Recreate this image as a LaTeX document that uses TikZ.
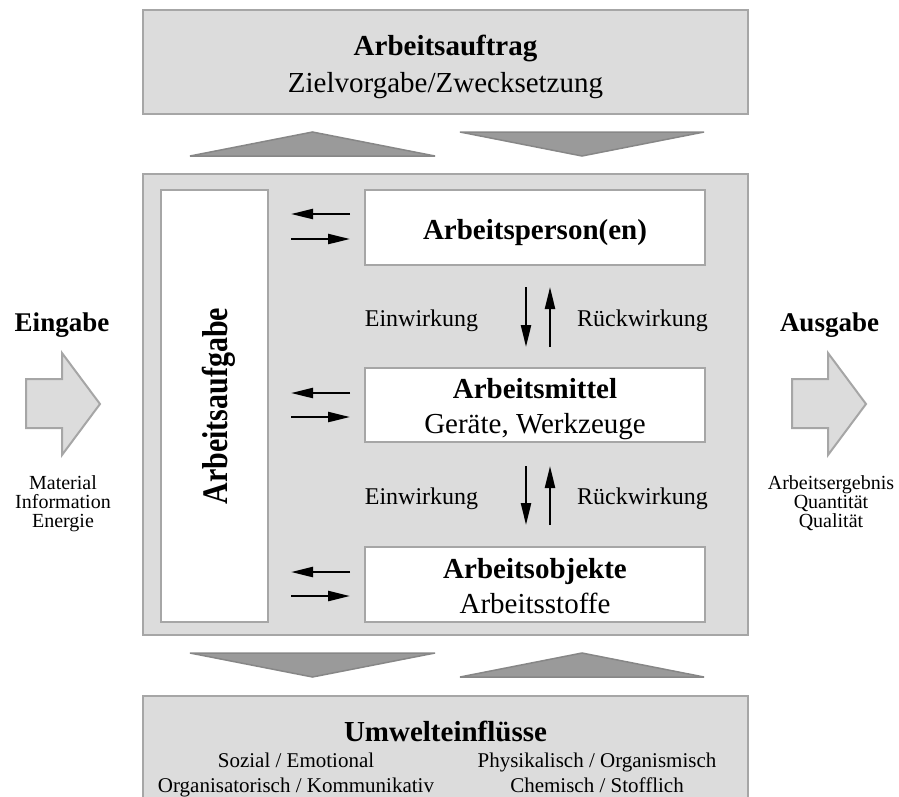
\documentclass[tikz,border=0pt]{standalone}
\usepackage{fontspec}
\setmainfont{Liberation Serif}
\usetikzlibrary{arrows.meta}
\definecolor{boxfill}{HTML}{DCDCDC}
\definecolor{boxline}{HTML}{A6A6A6}
\definecolor{trifill}{HTML}{9A9A9A}
\definecolor{triline}{HTML}{878787}
\begin{document}
\begin{tikzpicture}[x=1pt,y=-1pt,
  panel/.style={rectangle, draw=boxline, fill=boxfill, line width=2.5pt, inner sep=0pt, outer sep=0pt},
  whitebox/.style={rectangle, draw=boxline, fill=white, line width=2.5pt, inner sep=0pt, outer sep=0pt},
  tri/.style={draw=triline, fill=trifill, line width=1.5pt, line join=miter},
  bigarrow/.style={draw=boxline, fill=boxfill, line width=2pt, line join=miter},
  harr/.style={line width=2.4pt, -{Triangle[length=22pt,width=10pt]}},
  lbl/.style={anchor=base, inner sep=0pt},
  ttl/.style={lbl, font=\fontsize{29}{35}\selectfont\bfseries},
  sub/.style={lbl, font=\fontsize{29}{35}\selectfont},
  wirk/.style={lbl, font=\fontsize{24}{28}\selectfont},
  side/.style={lbl, font=\fontsize{27}{32}\selectfont\bfseries},
  small/.style={lbl, font=\fontsize{20}{24}\selectfont},
  env/.style={lbl, font=\fontsize{21}{25}\selectfont}]
\useasboundingbox (0,0) rectangle (899,796);

% top box
\node[panel, minimum width=605pt, minimum height=104pt] (auftrag) at (445.5,62) {};
\node[ttl] (tauftrag) at (445.5,55) {Arbeitsauftrag};
\node[sub] (tziel) at (445.5,92) {Zielvorgabe/Zwecksetzung};

% triangles top
\draw[tri] (190,156) -- (312.5,132) -- (435,156) -- cycle;
\draw[tri] (460,132) -- (582,156) -- (704,132) -- cycle;

% main box
\node[panel, minimum width=605pt, minimum height=461pt] (system) at (445.5,404.5) {};
\node[whitebox, minimum width=107pt, minimum height=432pt] (col) at (214.5,406) {};
\node[rotate=90, inner sep=0pt, font=\fontsize{30}{36}\selectfont\bfseries] (taufgabe) at (219,406) {\scalebox{1}[1.2]{Arbeitsaufgabe}};

\node[whitebox, minimum width=340pt, minimum height=75pt] (pers) at (535,227.5) {};
\node[whitebox, minimum width=340pt, minimum height=74pt] (mittel) at (535,405) {};
\node[whitebox, minimum width=340pt, minimum height=75pt] (obj) at (535,584.5) {};

\node[ttl] (tpers) at (535,239) {Arbeitsperson(en)};
\node[ttl] (tmittel) at (535,398) {Arbeitsmittel};
\node[sub] (tgeraete) at (535,433) {Geräte, Werkzeuge};
\node[ttl] (tobj) at (535,578) {Arbeitsobjekte};
\node[sub] (tstoffe) at (535,613) {Arbeitsstoffe};

% horizontal arrow pairs
\draw[harr, shorten <=15pt, shorten >=23pt] ([yshift=13.5pt]pers.west) -- ([yshift=13.5pt]col.east |- pers.west);
\draw[harr, shorten <=23pt, shorten >=15pt] ([yshift=-11.5pt]col.east |- pers.west) -- ([yshift=-11.5pt]pers.west);
\draw[harr, shorten <=15pt, shorten >=23pt] ([yshift=12pt]mittel.west) -- ([yshift=12pt]col.east |- mittel.west);
\draw[harr, shorten <=23pt, shorten >=15pt] ([yshift=-12pt]col.east |- mittel.west) -- ([yshift=-12pt]mittel.west);
\draw[harr, shorten <=15pt, shorten >=23pt] ([yshift=12.5pt]obj.west) -- ([yshift=12.5pt]col.east |- obj.west);
\draw[harr, shorten <=23pt, shorten >=15pt] ([yshift=-11.5pt]col.east |- obj.west) -- ([yshift=-11.5pt]obj.west);

% vertical arrow pairs
\draw[harr, shorten <=22pt, shorten >=21pt] ([xshift=-9pt]pers.south) -- ([xshift=-9pt]mittel.north);
\draw[harr, shorten <=21pt, shorten >=22pt] ([xshift=15pt]mittel.north) -- ([xshift=15pt]pers.south);
\draw[harr, shorten <=24pt, shorten >=22pt] ([xshift=-9pt]mittel.south) -- ([xshift=-9pt]obj.north);
\draw[harr, shorten <=22pt, shorten >=24pt] ([xshift=15pt]obj.north) -- ([xshift=15pt]mittel.south);

\node[wirk] (ein1) at (421.5,326) {Einwirkung};
\node[wirk] (rueck1) at (642.5,326) {Rückwirkung};
\node[wirk] (ein2) at (421.5,504) {Einwirkung};
\node[wirk] (rueck2) at (642.5,504) {Rückwirkung};

% triangles bottom
\draw[tri] (190,653) -- (312.5,677) -- (435,653) -- cycle;
\draw[tri] (460,677) -- (582,653) -- (704,677) -- cycle;

% bottom box (cut off at the lower edge)
\begin{scope}
\clip (0,0) rectangle (899,796);
\node[panel, minimum width=605pt, minimum height=130pt, anchor=north] (umwelt) at (445.5,696) {};
\end{scope}
\node[ttl] (tumwelt) at (445.5,741) {Umwelteinflüsse};
\node[env] (tsozial) at (296,767) {Sozial / Emotional};
\node[env] (torga) at (296,792) {Organisatorisch / Kommunikativ};
\node[env] (tphys) at (597,767) {Physikalisch / Organismisch};
\node[env] (tchem) at (597,792) {Chemisch / Stofflich};

% input
\node[side] (teingabe) at (62,331) {Eingabe};
\draw[bigarrow] (26,379) -- (62,379) -- (62,353) -- (100,404) -- (62,455) -- (62,428) -- (26,428) -- cycle;
\node[small] (tmat) at (63,489) {Material};
\node[small] (tinfo) at (63,508) {Information};
\node[small] (tenergie) at (63,527) {Energie};

% output
\node[side] (tausgabe) at (829.5,331) {Ausgabe};
\draw[bigarrow] (792,379) -- (828,379) -- (828,353) -- (866,404) -- (828,455) -- (828,428) -- (792,428) -- cycle;
\node[small] (terg) at (831,489) {Arbeitsergebnis};
\node[small] (tquant) at (831,508) {Quantität};
\node[small] (tqual) at (831,527) {Qualität};
\end{tikzpicture}
\end{document}
